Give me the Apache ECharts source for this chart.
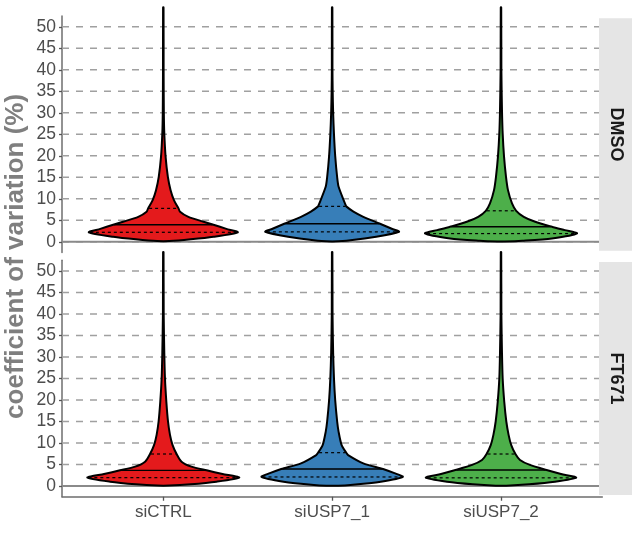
<!DOCTYPE html>
<html>
<head>
<meta charset="utf-8">
<script src="https://cdn.jsdelivr.net/npm/echarts@6/dist/echarts.min.js"></script>
<style>
  html, body { margin: 0; padding: 0; background: #ffffff; }
  #chart { width: 637px; height: 540px; }
</style>
</head>
<body>
<div id="chart"></div>
<script>
// ---- data -------------------------------------------------------------
const categories = ['siCTRL', 'siUSP7_1', 'siUSP7_2'];
const treatments = ['DMSO', 'FT671'];
const yTicks = [0, 5, 10, 15, 20, 25, 30, 35, 40, 45, 50];

// Violin outlines: [coefficient of variation (%), relative density]
const dmsoCtrl = [
  [0.15, 0.08], [0.56, 0.36], [1.16, 0.66], [2.2, 0.98], [3.0, 0.83], [3.95, 0.66],
  [4.65, 0.53], [5.8, 0.33], [7.0, 0.22], [7.76, 0.2], [9.7, 0.14], [12.0, 0.096],
  [15.1, 0.06], [19.8, 0.03], [25.2, 0.013], [30.0, 0.007], [40.0, 0.004], [54.5, 0.003]
];
const dmsoUsp1 = [
  [0.1, 0.08], [0.23, 0.19], [1.16, 0.58], [2.33, 0.88], [2.9, 0.8], [4.19, 0.63],
  [5.8, 0.41], [7.0, 0.28], [8.23, 0.185], [8.5, 0.178], [12.8, 0.085], [15.0, 0.066],
  [20.0, 0.04], [25.0, 0.024], [30.0, 0.013], [35.0, 0.007], [40.0, 0.004], [54.5, 0.003]
];
const dmsoUsp2 = [
  [0.05, 0.05], [0.23, 0.28], [0.78, 0.67], [1.95, 1.0], [2.7, 0.84], [3.5, 0.67],
  [4.65, 0.45], [5.8, 0.3], [7.2, 0.2], [8.9, 0.145], [12.0, 0.092], [15.1, 0.066],
  [19.8, 0.04], [25.2, 0.022], [30.6, 0.013], [40.0, 0.005], [54.5, 0.003]
];
const ft671Ctrl = [
  [0.1, 0.08], [0.4, 0.36], [1.0, 0.7], [1.94, 1.0], [2.8, 0.78], [3.64, 0.57],
  [4.5, 0.37], [5.65, 0.24], [7.44, 0.175], [9.5, 0.122], [11.9, 0.088], [15.0, 0.062],
  [19.6, 0.04], [25.0, 0.022], [31.0, 0.013], [40.0, 0.005], [54.4, 0.003]
];
const ft671Usp1 = [
  [0.08, 0.08], [0.23, 0.24], [1.0, 0.64], [2.1, 0.93], [3.0, 0.82], [3.95, 0.67],
  [5.27, 0.41], [7.2, 0.21], [7.75, 0.185], [9.5, 0.125], [12.6, 0.085], [15.0, 0.066],
  [20.0, 0.04], [25.0, 0.024], [31.0, 0.013], [40.0, 0.005], [54.4, 0.003]
];
const ft671Usp2 = [
  [0.08, 0.07], [0.4, 0.37], [1.0, 0.71], [1.94, 0.99], [2.8, 0.79], [3.72, 0.6],
  [4.9, 0.38], [6.05, 0.25], [7.44, 0.19], [9.5, 0.135], [11.9, 0.1], [15.0, 0.07],
  [19.6, 0.043], [25.0, 0.022], [31.0, 0.013], [40.0, 0.005], [54.4, 0.003]
];

// 25th, 50th and 75th percentiles per category
const dmsoQuantiles = [[2.2, 3.95, 7.76], [2.3, 4.19, 8.23], [1.9, 3.5, 7.2]];
const ft671Quantiles = [[1.94, 3.64, 7.44], [2.1, 3.95, 7.75], [1.9, 3.72, 7.44]];

// ---- styling ----------------------------------------------------------
const fillColors = ['#E41A1C', '#377EB8', '#4DAF4A'];
const HALF_WIDTH = 0.45;           // violin half-width in category units at density 1
const FONT = '"Liberation Sans", Arial, Helvetica, sans-serif';
const GRID_LEFT = 62, GRID_RIGHT = 34.7, PANEL_H = 236.5;
const PANEL_TOPS = [16, 260.25];

const panelProfiles = [
  [dmsoCtrl, dmsoUsp1, dmsoUsp2],
  [ft671Ctrl, ft671Usp1, ft671Usp2]
];
const panelQuantiles = [dmsoQuantiles, ft671Quantiles];

function densityAt(profile, v) {
  for (let k = 1; k < profile.length; k++) {
    const [v0, d0] = profile[k - 1], [v1, d1] = profile[k];
    if (v >= v0 && v <= v1) return d0 + (d1 - d0) * (v - v0) / (v1 - v0);
  }
  return 0;
}

function violinRenderer(profiles, quantiles) {
  return function (params, api) {
    const i = params.dataIndex;
    const cx = api.value(0);
    const prof = profiles[i];
    const left = [], right = [];
    prof.forEach(function (p) {
      left.push(api.coord([cx - p[1] * HALF_WIDTH, p[0]]));
      right.push(api.coord([cx + p[1] * HALF_WIDTH, p[0]]));
    });
    const points = left.concat(right.reverse());
    const children = [{
      type: 'polygon',
      shape: { points: points, smooth: 0.25 },
      style: { fill: fillColors[i], stroke: '#000000', lineWidth: 2, lineJoin: 'round' }
    }];
    quantiles[i].forEach(function (q, k) {
      const d = densityAt(prof, q) * HALF_WIDTH;
      const a = api.coord([cx - d, q]);
      const b = api.coord([cx + d, q]);
      children.push({
        type: 'line',
        shape: { x1: a[0] + 1, y1: a[1], x2: b[0] - 1, y2: b[1] },
        style: k === 1
          ? { stroke: '#000000', lineWidth: 1.4 }
          : { stroke: '#000000', lineWidth: 1.2, lineDash: [3, 3] }
      });
    });
    return { type: 'group', children: children };
  };
}

function gridLineRenderer(params, api) {
  const cs = params.coordSys;
  const y = api.coord([1, api.value(0)])[1];
  return {
    type: 'line',
    shape: { x1: cs.x, y1: y, x2: cs.x + cs.width, y2: y },
    style: { stroke: '#a0a0a0', lineWidth: 1.5, lineDash: [7, 7] }
  };
}

function zeroLineRenderer(params, api) {
  const cs = params.coordSys;
  const y = api.coord([1, 0])[1];
  return {
    type: 'line',
    shape: { x1: cs.x, y1: y, x2: cs.x + cs.width, y2: y },
    style: { stroke: '#8a8a8a', lineWidth: 2 }
  };
}

const grids = PANEL_TOPS.map(function (t) {
  return { left: GRID_LEFT, right: GRID_RIGHT, top: t, height: PANEL_H };
});

const xAxes = [0, 1].map(function (g) {
  return {
    type: 'value', gridIndex: g, min: 0.4, max: 3.6,
    show: g === 1,
    splitLine: { show: false },
    axisLine: { show: true, onZero: false, lineStyle: { color: '#6e6e6e', width: 1.5 } },
    axisTick: { show: true, customValues: [1, 2, 3], length: 4, lineStyle: { color: '#555555', width: 1.3 } },
    axisLabel: {
      show: true, customValues: [1, 2, 3], margin: 7,
      fontFamily: FONT, fontSize: 17, color: '#4d4d4d',
      formatter: function (v) { return categories[Math.round(v) - 1]; }
    }
  };
});

const yAxes = [0, 1].map(function (g) {
  return {
    type: 'value', gridIndex: g, min: -2.5, max: 52.5,
    splitLine: { show: false },
    axisLine: { show: true, lineStyle: { color: '#6e6e6e', width: 1.5 } },
    axisTick: { show: true, customValues: yTicks, length: 3, lineStyle: { color: '#555555', width: 1.3 } },
    axisLabel: {
      show: true, customValues: yTicks, margin: 6,
      fontFamily: FONT, fontSize: 17.5, color: '#4d4d4d'
    }
  };
});

const series = [];
[0, 1].forEach(function (g) {
  series.push({
    type: 'custom', xAxisIndex: g, yAxisIndex: g, z: 1, silent: true,
    data: yTicks.map(function (v) { return [v]; }),
    encode: { y: 0 },
    renderItem: gridLineRenderer
  });
  series.push({
    type: 'custom', xAxisIndex: g, yAxisIndex: g, z: 2, silent: true,
    data: [[0]],
    encode: { y: 0 },
    renderItem: zeroLineRenderer
  });
  series.push({
    type: 'custom', xAxisIndex: g, yAxisIndex: g, z: 3, silent: true, clip: false,
    data: categories.map(function (c, i) { return [i + 1, 0]; }),
    encode: { x: 0, y: 1 },
    renderItem: violinRenderer(panelProfiles[g], panelQuantiles[g])
  });
});

const stripX = 599, stripW = 33;
const strips = [[18.3, 232.4], [262, 233]];
const graphic = [];
strips.forEach(function (s, g) {
  graphic.push({
    type: 'rect', z: 100,
    shape: { x: stripX, y: s[0], width: stripW, height: s[1] },
    style: { fill: '#e5e5e5' }
  });
  graphic.push({
    type: 'text', z: 101,
    x: stripX + stripW / 2, y: s[0] + s[1] / 2,
    rotation: -Math.PI / 2,
    style: {
      text: treatments[g], fill: '#1a1a1a',
      font: 'bold 18px ' + FONT,
      align: 'center', verticalAlign: 'middle'
    }
  });
});
graphic.push({
  type: 'text', z: 101,
  x: 16, y: (PANEL_TOPS[0] + PANEL_TOPS[1] + PANEL_H) / 2,
  rotation: Math.PI / 2,
  style: {
    text: 'coefficient of variation (%)', fill: '#7f7f7f',
    font: 'bold 26px ' + FONT,
    align: 'center', verticalAlign: 'middle'
  }
});

const chart = echarts.init(document.getElementById('chart'), null, { renderer: 'canvas' });
chart.setOption({
  animation: false,
  backgroundColor: '#ffffff',
  grid: grids,
  xAxis: xAxes,
  yAxis: yAxes,
  series: series,
  graphic: graphic
});
</script>
</body>
</html>
